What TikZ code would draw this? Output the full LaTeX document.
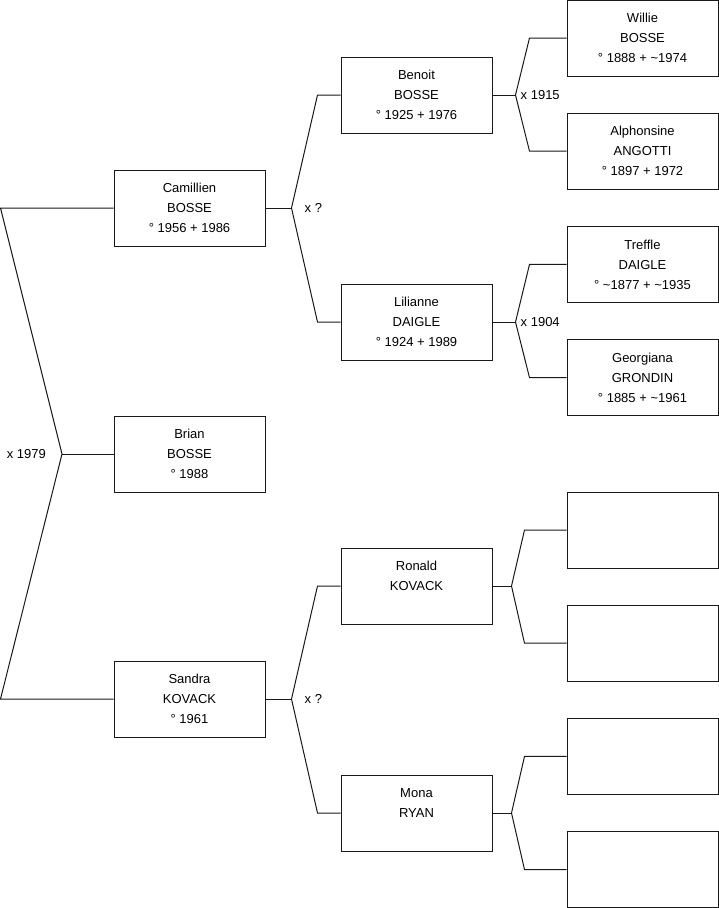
\documentclass[tikz,border=0pt]{standalone}
\usepackage{fontspec}
\setmainfont{Liberation Sans}
\usetikzlibrary{positioning}

\begin{document}
\begin{tikzpicture}[
  x=1pt, y=-1pt,
  node distance=36.2pt,
  font=\fontsize{13}{20}\selectfont,
  person/.style={draw=black!90, line width=1pt, align=center,
                 minimum width=151pt, minimum height=76pt, inner sep=0pt},
  link/.style={draw=black!90, line width=1pt},
  union/.style={inner sep=0pt}
]
\useasboundingbox (0,0) rectangle (719,908);

% children
\node[person] (camillien) at (189.5,208) {Camillien\\BOSSE\\° 1956 + 1986};
\node[person] (brian) at (189.5,454) {Brian\\BOSSE\\° 1988};
\node[person] (sandra) at (189.5,699) {Sandra\\KOVACK\\° 1961};

% parents
\node[person] (benoit) at (416.5,95) {Benoit\\BOSSE\\° 1925 + 1976};
\node[person] (lilianne) at (416.5,322) {Lilianne\\DAIGLE\\° 1924 + 1989};
\node[person] (ronald) at (416.5,586) {Ronald\\KOVACK\\\vphantom{1}};
\node[person] (mona) at (416.5,813) {Mona\\RYAN\\\vphantom{1}};

% grandparents
\node[person] (willie) at (642.5,38) {Willie\\BOSSE\\° 1888 + \textasciitilde1974};
\node[person, below=of willie] (alphonsine) {Alphonsine\\ANGOTTI\\° 1897 + 1972};
\node[person, below=of alphonsine] (treffle) {Treffle\\DAIGLE\\° \textasciitilde1877 + \textasciitilde1935};
\node[person, below=of treffle] (georgiana) {Georgiana\\GRONDIN\\° 1885 + \textasciitilde1961};
\node[person] (kovackf) at (642.5,530) {};
\node[person, below=of kovackf] (kovackm) {};
\node[person, below=of kovackm] (ryanf) {};
\node[person, below=of ryanf] (ryanm) {};

% root union
\coordinate (r0) at (0.5,208);
\coordinate (r1) at (62,454);
\coordinate (r2) at (0.5,699);
\draw[link] (camillien.west) -- (r0) -- (r1) -- (r2) -- (sandra.west);
\draw[link] (r1) -- (brian.west);
\node[union, anchor=east] (m0) at ([xshift=-16pt]r1) {x 1979};

% Camillien's parents
\draw[link] (camillien.east) -- ++(26,0) coordinate (u1);
\draw[link] (benoit.west) -- ++(-23,0) -- (u1) -- ([xshift=-23pt]lilianne.west) -- (lilianne.west);
\node[union, anchor=west] (m1) at ([xshift=13pt]u1) {x ?};

% Sandra's parents
\draw[link] (sandra.east) -- ++(26,0) coordinate (u2);
\draw[link] (ronald.west) -- ++(-23,0) -- (u2) -- ([xshift=-23pt]mona.west) -- (mona.west);
\node[union, anchor=west] (m2) at ([xshift=13pt]u2) {x ?};

% Benoit's parents
\draw[link] (benoit.east) -- ++(23,0) coordinate (u3);
\draw[link] (willie.west) -- ++(-37,0) -- (u3) -- ([xshift=-37pt]alphonsine.west) -- (alphonsine.west);
\node[union, anchor=west] (m3) at ([xshift=5pt]u3) {x 1915};

% Lilianne's parents
\draw[link] (lilianne.east) -- ++(23,0) coordinate (u4);
\draw[link] (treffle.west) -- ++(-37,0) -- (u4) -- ([xshift=-37pt]georgiana.west) -- (georgiana.west);
\node[union, anchor=west] (m4) at ([xshift=5pt]u4) {x 1904};

% Ronald's parents
\draw[link] (ronald.east) -- ++(19,0) coordinate (u5);
\draw[link] (kovackf.west) -- ++(-42,0) -- (u5) -- ([xshift=-42pt]kovackm.west) -- (kovackm.west);

% Mona's parents
\draw[link] (mona.east) -- ++(19,0) coordinate (u6);
\draw[link] (ryanf.west) -- ++(-42,0) -- (u6) -- ([xshift=-42pt]ryanm.west) -- (ryanm.west);
\end{tikzpicture}
\end{document}
